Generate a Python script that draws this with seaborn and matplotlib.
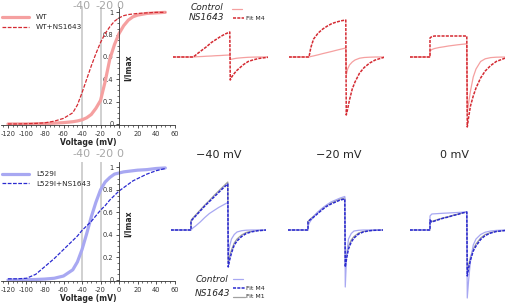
import matplotlib
matplotlib.use('Agg')
import matplotlib.pyplot as plt
import seaborn as sns
from matplotlib.ticker import MultipleLocator
from matplotlib.lines import Line2D

# activation curves, I/Imax vs voltage (mV)
volt = [-120, -110, -100, -90, -80, -70, -60, -50, -45, -40, -35, -30, -25,
        -20, -15, -10, -5, 0, 5, 10, 15, 20, 30, 40, 50]
wt = [0, 0, 0, 0.002, 0.004, 0.007, 0.012, 0.02, 0.027, 0.037, 0.055, 0.085,
      0.14, 0.21, 0.38, 0.58, 0.71, 0.81, 0.88, 0.93, 0.96, 0.975, 0.99, 0.995, 1.0]
wt_ns = [0, 0, 0.002, 0.005, 0.01, 0.025, 0.05, 0.1, 0.17, 0.28, 0.4, 0.52,
         0.63, 0.73, 0.81, 0.87, 0.92, 0.95, 0.97, 0.98, 0.985, 0.99, 0.995, 1.0, 1.0]
l529i = [0, 0, 0.002, 0.004, 0.008, 0.015, 0.035, 0.09, 0.16, 0.27, 0.41, 0.56,
         0.69, 0.8, 0.87, 0.91, 0.94, 0.95, 0.96, 0.965, 0.97, 0.975, 0.98, 0.99, 0.995]
l529i_ns = [0.01, 0.01, 0.015, 0.05, 0.12, 0.19, 0.27, 0.35, 0.39, 0.44, 0.48, 0.52,
            0.57, 0.62, 0.66, 0.71, 0.75, 0.79, 0.82, 0.85, 0.88, 0.9, 0.94, 0.97, 0.99]
top_marks = [-40, -20, 0]
top_labels = ['-40', '-20', '0']

# current traces, common time grid (ms), pulse 0-40 ms
time = [-22, 0, 0, 2, 5, 10, 15, 20, 25, 30, 35, 40,
        40.5, 42, 44, 47, 50, 55, 60, 66, 72, 82]
wt40_ctrl = [0, 0, 0, 0.01, 0.03, 0.05, 0.08, 0.1, 0.13, 0.15, 0.18, 0.2,
             -0.25, -0.22, -0.18, -0.13, -0.1, -0.06, -0.03, -0.01, 0, 0]
wt40_ns = [0, 0, 0, 0.12, 0.35, 0.7, 1.05, 1.45, 1.75, 2.05, 2.3, 2.5,
           -2.3, -2.0, -1.75, -1.4, -1.15, -0.75, -0.45, -0.27, -0.14, -0.02]
wt20_ctrl = [0, 0, 0, 0.05, 0.11, 0.22, 0.34, 0.45, 0.56, 0.68, 0.79, 0.9,
             -1.8, -1.2, -0.8, -0.5, -0.3, -0.12, -0.05, -0.02, 0, 0]
wt20_ns = [0, 0, 0, 0.95, 1.8, 2.4, 2.8, 3.1, 3.35, 3.5, 3.62, 3.7,
           -5.8, -5.2, -4.3, -3.2, -2.5, -1.6, -1.05, -0.6, -0.3, -0.02]
wt0_ctrl = [0, 0, 0.6, 0.75, 0.85, 0.95, 1.02, 1.1, 1.16, 1.22, 1.27, 1.32,
            -5.6, -4.6, -3.4, -2.0, -1.2, -0.45, -0.18, -0.06, -0.02, 0]
wt0_ns = [0, 0, 1.9, 2.05, 2.1, 2.1, 2.1, 2.1, 2.1, 2.1, 2.1, 2.1,
          -7.0, -6.0, -4.9, -3.9, -3.1, -2.1, -1.4, -0.85, -0.45, -0.1]
l40_ctrl = [0, 0, 0, 0.2, 0.4, 0.8, 1.25, 1.65, 1.95, 2.25, 2.5, 2.75,
            -2.6, -1.6, -0.9, -0.45, -0.2, -0.07, -0.02, 0, 0, 0]
l40_m4 = [0, 0, 0.9, 1.1, 1.4, 1.9, 2.4, 2.85, 3.3, 3.75, 4.2, 4.6,
          -3.7, -3.0, -2.3, -1.5, -1.1, -0.65, -0.35, -0.18, -0.08, 0]
l40_m1 = [0, 0, 0.95, 1.2, 1.5, 2.0, 2.5, 2.95, 3.45, 3.9, 4.35, 4.8,
          -3.4, -2.6, -2.0, -1.3, -0.9, -0.5, -0.25, -0.12, -0.05, 0]
l20_ctrl = [0, 0, 0.4, 0.8, 1.2, 1.75, 2.15, 2.5, 2.8, 3.0, 3.2, 3.35,
            -5.7, -2.5, -0.9, -0.35, -0.1, -0.03, 0, 0, 0, 0]
l20_m4 = [0, 0, 0.83, 1.0, 1.2, 1.6, 2.0, 2.35, 2.6, 2.8, 3.0, 3.1,
          -3.7, -2.8, -1.9, -1.2, -0.8, -0.4, -0.2, -0.08, -0.03, 0]
l20_m1 = [0, 0, 0.85, 1.05, 1.3, 1.7, 2.1, 2.45, 2.7, 2.9, 3.1, 3.2,
          -3.5, -2.5, -1.6, -1.0, -0.65, -0.3, -0.15, -0.06, -0.02, 0]
l0_ctrl = [0, 0, 1.4, 1.6, 1.62, 1.65, 1.68, 1.7, 1.73, 1.75, 1.78, 1.8,
           -6.8, -5.0, -3.1, -1.5, -0.9, -0.45, -0.22, -0.1, -0.04, 0]
l0_m4 = [0, 0, 1.0, 0.8, 0.9, 1.05, 1.2, 1.3, 1.45, 1.55, 1.7, 1.8,
         -4.6, -3.8, -3.0, -2.1, -1.6, -0.95, -0.55, -0.3, -0.15, -0.05]
l0_m1 = [0, 0, 1.0, 0.85, 0.95, 1.1, 1.22, 1.33, 1.47, 1.58, 1.7, 1.8,
         -4.3, -3.5, -2.7, -1.9, -1.4, -0.8, -0.45, -0.25, -0.12, -0.03]
step_labels = ['\u221240 mV', '\u221220 mV', '0 mV']

RED_L, RED_D = '#f5a0a0', '#d42a32'
BLUE_L, BLUE_D = '#a8a8f2', '#2a2ad0'
GRAY = '#c4c4c4'

sns.set_theme(style='white')
plt.rcParams['font.family'] = ['DejaVu Sans']
plt.rcParams['axes.unicode_minus'] = False

W, H = 505, 303
fig = plt.figure(figsize=(W / 100, H / 100), dpi=100)


def rect(left, top, w, h):
    return [left / W, 1 - (top + h) / H, w / W, h / H]


def act_panel(r, light, dark, lab_l, lab_d, cl, cd, label_dy, leg_top):
    ax = fig.add_axes(r)
    ax.set_facecolor('none')
    for v in top_marks[:2]:
        ax.axvline(v, color=GRAY, lw=1.1, zorder=0)
    sns.lineplot(x=volt, y=light, ax=ax, color=cl, lw=2.3, label=lab_l,
                 estimator=None, sort=False)
    sns.lineplot(x=volt, y=dark, ax=ax, color=cd, lw=0.9, label=lab_d,
                 linestyle=(0, (3, 1.2)), estimator=None, sort=False)
    ax.set_xlim(-127, 61)
    ax.set_ylim(-0.012, 1.045)
    for s in ['top', 'right']:
        ax.spines[s].set_visible(False)
    ax.spines['left'].set_position(('data', 0))
    for s in ['left', 'bottom']:
        ax.spines[s].set_linewidth(0.6)
        ax.spines[s].set_color('#333333')
    ax.set_xticks(range(-120, 61, 20))
    ax.set_yticks([0, 0.2, 0.4, 0.6, 0.8, 1.0])
    ax.set_yticklabels(['0', '0.2', '0.4', '0.6', '0.8', '1'])
    ax.xaxis.set_minor_locator(MultipleLocator(5))
    ax.yaxis.set_minor_locator(MultipleLocator(0.05))
    ax.tick_params(which='major', length=2.5, width=0.6, labelsize=4.8,
                   pad=1.5, colors='#333333', left=True, bottom=True)
    ax.tick_params(which='minor', length=1.3, width=0.5, left=True,
                   bottom=True, colors='#333333')
    ax.set_xlabel('Voltage (mV)', fontsize=5.5, fontweight='bold', labelpad=1)
    ax.set_ylabel('')
    ax.text(9.5, 0.5, 'I/Imax', rotation=90, ha='center', va='center',
            fontsize=5.5, fontweight='bold')
    for v, t, dx in zip(top_marks, top_labels, [-0.5, 3, 0.5]):
        ax.annotate(t, xy=(v, 1), xycoords=('data', 'axes fraction'),
                    xytext=(dx, label_dy), textcoords='offset points',
                    ha='center', va='center', fontsize=8, color='#a8a8a8')
    ax.legend(loc='upper left', bbox_to_anchor=(0.0, leg_top),
              frameon=False, fontsize=5.2, handlelength=3.8,
              handletextpad=1.0, labelspacing=0.5, borderaxespad=0,
              borderpad=0)
    return ax


act_panel(rect(1.5, 7.3, 174, 118), wt, wt_ns, 'WT', 'WT+NS1643',
          RED_L, RED_D, 0.8, 0.94)
act_panel(rect(1.5, 162.3, 174, 119), l529i, l529i_ns, 'L529I', 'L529I+NS1643',
          BLUE_L, BLUE_D, 5.8, 0.925)

# trace panels
top_steps = [193, 309, 430]
bot_steps = [191, 308, 430]
px_per_ms = 0.92
top_sets = [(wt40_ctrl, wt40_ns), (wt20_ctrl, wt20_ns), (wt0_ctrl, wt0_ns)]
bot_sets = [(l40_ctrl, l40_m4, l40_m1), (l20_ctrl, l20_m4, l20_m1),
            (l0_ctrl, l0_m4, l0_m1)]

for sx, (ctrl, ns) in zip(top_steps, top_sets):
    ax = fig.add_axes(rect(sx - 22 * px_per_ms, 7, 104 * px_per_ms, 130))
    sns.lineplot(x=time, y=ctrl, ax=ax, color=RED_L, lw=0.9,
                 estimator=None, sort=False)
    sns.lineplot(x=time, y=ns, ax=ax, color=RED_D, lw=1.1,
                 linestyle=(0, (2, 0.8)), estimator=None, sort=False)
    ax.set_xlim(-22, 82)
    ax.set_ylim(-8, 5)
    ax.axis('off')

for sx, (ctrl, m4, m1) in zip(bot_steps, bot_sets):
    ax = fig.add_axes(rect(sx - 22 * px_per_ms, 175, 104 * px_per_ms, 127))
    sns.lineplot(x=time, y=m1, ax=ax, color='#a0a0a0', lw=0.9,
                 estimator=None, sort=False)
    sns.lineplot(x=time, y=ctrl, ax=ax, color=BLUE_L, lw=0.9,
                 estimator=None, sort=False)
    sns.lineplot(x=time, y=m4, ax=ax, color=BLUE_D, lw=1.1,
                 linestyle=(0, (2, 0.8)), estimator=None, sort=False)
    ax.set_xlim(-22, 82)
    ax.set_ylim(-7.2, 5.5)
    ax.axis('off')

# overlay in pixel units for labels and trace legends
ov = fig.add_axes([0, 0, 1, 1])
ov.set_xlim(0, W)
ov.set_ylim(H, 0)
ov.axis('off')
ov.set_facecolor('none')

for xc, t in zip([219, 339, 455], step_labels):
    ov.text(xc, 155, t, ha='center', va='center', fontsize=8)

# top trace legend
ov.text(223, 7, 'Control', ha='right', va='center', fontsize=6.5, style='italic')
ov.text(224, 18, 'NS1643', ha='right', va='center', fontsize=6.5, style='italic')
ov.add_line(Line2D([232, 242], [9, 9], color=RED_L, lw=0.9))
ov.add_line(Line2D([233, 244], [18, 18], color=RED_D, lw=1.1,
                   linestyle=(0, (2, 0.8))))
ov.text(246, 18, 'Fit M4', ha='left', va='center', fontsize=4.5)

# bottom trace legend
ov.text(228, 280, 'Control', ha='right', va='center', fontsize=6.5, style='italic')
ov.text(230, 293, 'NS1643', ha='right', va='center', fontsize=6.5, style='italic')
ov.add_line(Line2D([233, 243], [279, 279], color=BLUE_L, lw=0.9))
ov.add_line(Line2D([233, 245], [288, 288], color=BLUE_D, lw=1.1,
                   linestyle=(0, (2, 0.8))))
ov.text(246, 288, 'Fit M4', ha='left', va='center', fontsize=4.5)
ov.add_line(Line2D([233, 245], [297, 297], color='#a0a0a0', lw=0.9))
ov.text(246, 297, 'Fit M1', ha='left', va='center', fontsize=4.5)

fig.savefig('out.png', dpi=100)
